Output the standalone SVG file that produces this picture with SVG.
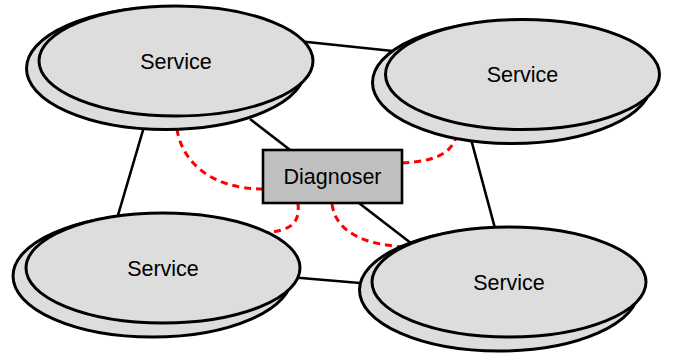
<svg xmlns="http://www.w3.org/2000/svg" width="673" height="356" viewBox="0 0 673 356">
<style>
.ell{fill:#dddddd;stroke:#000;stroke-width:3}
.box{fill:#c0c0c0;stroke:#000;stroke-width:2.6}
.lbl{font-family:"Liberation Sans",Arial,sans-serif;font-size:21.5px;fill:#000;text-anchor:middle}
.edge{stroke:#000;stroke-width:2.6;fill:none}
.diag{stroke:#ff0000;stroke-width:3;fill:none;stroke-dasharray:7,5}
</style>
<rect width="673" height="356" fill="#fff"/>
<g id="connectors">
<line class="edge" x1="300" y1="41.3" x2="400" y2="51.7"/>
<line class="edge" x1="146" y1="120" x2="116" y2="222"/>
<line class="edge" x1="250" y1="119" x2="416" y2="247"/>
<line class="edge" x1="468" y1="128" x2="496" y2="232"/>
<line class="edge" x1="295" y1="277.5" x2="366" y2="283.5"/>
<path class="diag" d="M176,117 C176,160 210,189 263,189"/>
<path class="diag" d="M402,163 C442,161 458,150 458,123"/>
<path class="diag" d="M298,203 C300,225 290,230 265,233"/>
<path class="diag" d="M332,204 C336,235 370,245 405,247"/>
</g>
<g id="service1">
<ellipse class="ell" cx="166" cy="68.5" rx="139.5" ry="61"/>
<ellipse class="ell" cx="176" cy="61" rx="137" ry="55"/>
<text class="lbl" x="176" y="68.5">Service</text>
</g>
<g id="service2">
<ellipse class="ell" cx="512" cy="82.5" rx="139.5" ry="61"/>
<ellipse class="ell" cx="522.5" cy="74.5" rx="137" ry="55"/>
<text class="lbl" x="522.5" y="82">Service</text>
</g>
<g id="service3">
<ellipse class="ell" cx="152.5" cy="276" rx="139.5" ry="61"/>
<ellipse class="ell" cx="163" cy="268" rx="137" ry="55"/>
<text class="lbl" x="163" y="275.5">Service</text>
</g>
<g id="service4">
<ellipse class="ell" cx="499" cy="290" rx="139.5" ry="61"/>
<ellipse class="ell" cx="509" cy="282" rx="137" ry="55"/>
<text class="lbl" x="509" y="289.5">Service</text>
</g>
<g id="diagnoser">
<rect class="box" x="263" y="150" width="139" height="53"/>
<text class="lbl" x="332.5" y="184">Diagnoser</text>
</g>
</svg>
